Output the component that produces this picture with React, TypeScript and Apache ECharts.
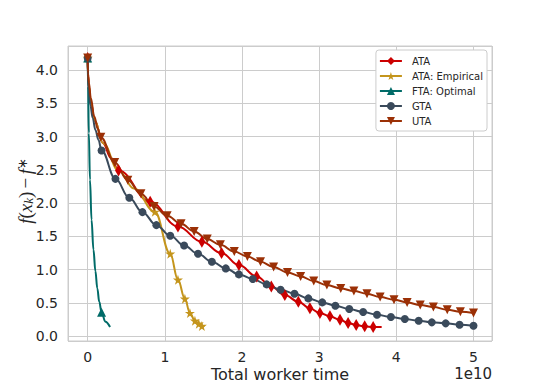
import React, { useEffect, useRef } from "react";
import * as echarts from "echarts";

// Values in units of 1e10 (x) and f(x_k) - f* (y)
const ataX = [0, 0.4, 0.81, 1.17, 1.48, 1.735, 1.96, 2.19, 2.38, 2.555, 2.73, 2.88, 3.01, 3.14, 3.27, 3.375, 3.48, 3.59, 3.7];
const ataY = [4.18, 2.49, 2.02, 1.65, 1.42, 1.25, 1.07, 0.9, 0.75, 0.62, 0.52, 0.42, 0.35, 0.3, 0.25, 0.2, 0.17, 0.15, 0.14];
const ataCurveX = [0.004, 0.016, 0.04, 0.09, 0.2, 0.3, 3.81];
const ataCurveY = [3.92, 3.75, 3.52, 3.24, 2.9, 2.68, 0.14];

const empX = [0, 0.87, 1.07, 1.17, 1.26, 1.325, 1.39, 1.44, 1.48];
const empY = [4.18, 1.87, 1.24, 0.85, 0.565, 0.35, 0.235, 0.19, 0.155];
const empCurveX = [0.004, 0.016, 0.04, 0.09, 0.2, 0.4, 0.6, 1.51];
const empCurveY = [3.92, 3.75, 3.52, 3.24, 2.9, 2.49, 2.22, 0.14];

const ftaX = [0, 0.18];
const ftaY = [4.18, 0.36];
const ftaCurveX = [0.005, 0.015, 0.03, 0.05, 0.075, 0.1, 0.125, 0.15, 0.23, 0.29];
const ftaCurveY = [3.75, 3.05, 2.35, 1.75, 1.3, 0.98, 0.72, 0.52, 0.22, 0.14];

const gtaX = [0, 0.18, 0.36, 0.54, 0.71, 0.89, 1.07, 1.25, 1.43, 1.61, 1.79, 1.96, 2.14, 2.32, 2.5, 2.68, 2.86, 3.04, 3.21, 3.39, 3.57, 3.75, 3.93, 4.11, 4.29, 4.46, 4.64, 4.82, 5.0];
const gtaY = [4.18, 2.79, 2.365, 2.08, 1.865, 1.67, 1.51, 1.365, 1.24, 1.12, 1.02, 0.93, 0.86, 0.78, 0.7, 0.64, 0.57, 0.51, 0.46, 0.41, 0.365, 0.325, 0.29, 0.26, 0.235, 0.21, 0.195, 0.175, 0.16];
const gtaCurveX = [0.004, 0.015, 0.035, 0.065, 0.1, 0.14];
const gtaCurveY = [3.9, 3.7, 3.47, 3.28, 3.1, 2.95];

const utaX = [0, 0.17, 0.35, 0.52, 0.69, 0.86, 1.03, 1.21, 1.38, 1.55, 1.72, 1.9, 2.07, 2.24, 2.41, 2.59, 2.76, 2.93, 3.1, 3.28, 3.45, 3.62, 3.79, 3.97, 4.14, 4.31, 4.48, 4.66, 4.83, 5.0];
const utaY = [4.18, 2.99, 2.61, 2.345, 2.14, 1.95, 1.81, 1.69, 1.575, 1.46, 1.374, 1.273, 1.2, 1.12, 1.04, 0.96, 0.9, 0.83, 0.77, 0.72, 0.68, 0.64, 0.59, 0.55, 0.51, 0.47, 0.44, 0.4, 0.37, 0.35];
const utaCurveX = [0.004, 0.017, 0.04, 0.086, 0.13];
const utaCurveY = [3.95, 3.8, 3.58, 3.3, 3.12];

const seriesNames = ["ATA", "ATA: Empirical", "FTA: Optimal", "GTA", "UTA"];
const seriesColors = ["#cc0000", "#c4951c", "#006b68", "#3a4a5b", "#9b3006"];

const STAR = "path://M50,0 L61,35 L98,35 L68,57 L79,91 L50,70 L21,91 L32,57 L2,35 L39,35 Z";

function combine(mx: number[], my: number[], cx: number[], cy: number[]) {
  const pts: any[] = [];
  mx.forEach((x, i) => pts.push({ value: [x, my[i]] }));
  cx.forEach((x, i) => pts.push({ value: [x, cy[i]], symbol: "none" }));
  pts.sort((a, b) => a.value[0] - b.value[0]);
  return pts;
}

export default function App() {
  const ref = useRef<HTMLDivElement>(null);
  useEffect(() => {
    document.body.style.margin = "0";
    const chart = echarts.init(ref.current!, null, { renderer: "svg" });
    const base = (i: number) => ({
      name: seriesNames[i],
      type: "line",
      smooth: 0.4,
      smoothMonotone: "x",
      color: seriesColors[i],
      lineStyle: { width: 2, color: seriesColors[i] },
      itemStyle: { color: seriesColors[i] },
      showAllSymbol: true,
    });
    const option: any = {
      animation: false,
      backgroundColor: "#ffffff",
      textStyle: { fontFamily: "DejaVu Sans" },
      grid: {
        left: 68,
        right: 56,
        top: 46,
        bottom: 43,
        show: true,
        borderColor: "#cccccc",
        borderWidth: 1,
        containLabel: false,
        outerBoundsMode: "none",
      },
      legend: {
        orient: "vertical",
        right: 61,
        top: 50,
        padding: [6, 4, 5, 3],
        itemWidth: 22,
        itemHeight: 10,
        itemGap: 5,
        align: "left",
        backgroundColor: "#ffffff",
        borderColor: "#cccccc",
        borderWidth: 1,
        borderRadius: 3,
        textStyle: { fontSize: 10, color: "#262626", fontFamily: "DejaVu Sans", padding: [0, 0, 0, 5] },
        data: seriesNames,
      },
      xAxis: {
        type: "value",
        min: -0.255,
        max: 5.24,
        minInterval: 1,
        maxInterval: 1,
        splitNumber: 5,
        axisLine: { show: false },
        axisTick: { show: false },
        axisLabel: {
          fontSize: 14,
          color: "#262626",
          margin: 9,
          fontFamily: "DejaVu Sans",
          formatter: (v: number) => (Math.abs(v - Math.round(v)) < 1e-6 ? String(Math.round(v)) : ""),
        },
        splitLine: { show: true, lineStyle: { color: "#cccccc", width: 1 } },
      },
      yAxis: {
        type: "value",
        min: -0.07,
        max: 4.36,
        minInterval: 0.5,
        maxInterval: 0.5,
        splitNumber: 9,
        axisLine: { show: false },
        axisTick: { show: false },
        axisLabel: {
          fontSize: 14,
          color: "#262626",
          margin: 10,
          fontFamily: "DejaVu Sans",
          formatter: (v: number) => (Math.abs(v * 2 - Math.round(v * 2)) < 1e-6 ? v.toFixed(1) : ""),
        },
        splitLine: { show: true, lineStyle: { color: "#cccccc", width: 1 } },
      },
      graphic: [
        {
          type: "text",
          x: 25,
          y: 191,
          rotation: Math.PI / 2,
          style: {
            text: "{i|f}{n|(}{i|x}{s|k}{n|)} {n|−} {i|f}{p|∗}",
            align: "center",
            verticalAlign: "middle",
            fill: "#262626",
            rich: {
              i: { fontFamily: "Liberation Serif", fontStyle: "italic", fontSize: 19, fill: "#262626" },
              n: { fontFamily: "Liberation Serif", fontSize: 19, fill: "#262626" },
              s: { fontFamily: "Liberation Serif", fontStyle: "italic", fontSize: 13, verticalAlign: "bottom", fill: "#262626" },
              p: { fontFamily: "DejaVu Sans", fontSize: 13, verticalAlign: "top", fill: "#262626" },
            },
          },
        },
        {
          type: "text",
          x: 280,
          y: 374,
          style: {
            text: "Total worker time",
            align: "center",
            verticalAlign: "middle",
            fontSize: 16,
            fontFamily: "DejaVu Sans",
            fill: "#262626",
          },
        },
        {
          type: "text",
          x: 492,
          y: 374,
          style: {
            text: "1e10",
            align: "right",
            verticalAlign: "middle",
            fontSize: 15,
            fontFamily: "DejaVu Sans",
            fill: "#262626",
          },
        },
      ],
      series: [
        { ...base(0), symbol: "diamond", symbolSize: [7, 12], data: combine(ataX, ataY, ataCurveX, ataCurveY) },
        { ...base(1), symbol: STAR, symbolSize: 10, data: combine(empX, empY, empCurveX, empCurveY) },
        { ...base(2), symbol: "triangle", symbolSize: 9, data: combine(ftaX, ftaY, ftaCurveX, ftaCurveY) },
        { ...base(3), symbol: "circle", symbolSize: 8, data: combine(gtaX, gtaY, gtaCurveX, gtaCurveY) },
        { ...base(4), symbol: "triangle", symbolRotate: 180, symbolSize: 9, data: combine(utaX, utaY, utaCurveX, utaCurveY) },
      ],
    };
    chart.setOption(option);
    return () => chart.dispose();
  }, []);
  return (
    <div
      ref={ref}
      style={{ position: "fixed", left: 0, top: 0, width: 548, height: 384, background: "#fff" }}
    />
  );
}
